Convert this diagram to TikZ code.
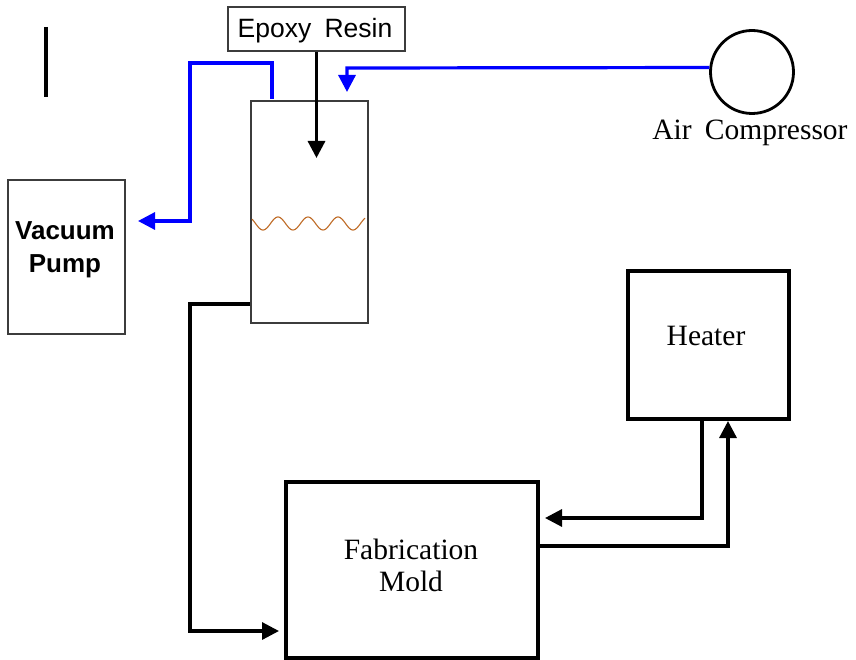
\documentclass[tikz,border=0pt]{standalone}
\usepackage{fontspec}
\setmainfont{Liberation Serif}
\newfontfamily\sansf{Liberation Sans}
\usetikzlibrary{arrows.meta}
\definecolor{pipeblue}{RGB}{0,0,255}
\definecolor{resinbrown}{RGB}{190,105,35}
\definecolor{thingray}{RGB}{60,60,60}
\begin{document}
\begin{tikzpicture}[x=1pt,y=-1pt,
  thinbox/.style={draw=thingray,line width=1.3pt,inner sep=0pt},
  thickbox/.style={draw=black,line width=3.2pt,inner sep=0pt},
  serifbig/.style={font=\fontsize{29.5}{32}\selectfont,align=center},
  blk/.style={draw=black,line width=3.2pt,-{Triangle[length=17pt,width=17pt]}},
  blu/.style={draw=pipeblue,line width=3.2pt,-{Triangle[length=17pt,width=17pt]}}]
\useasboundingbox (0,0) rectangle (856,660);

% stand-alone mark
\draw[line width=3.2pt] (46,27) -- (46,97);

% nodes
\node[thinbox,minimum width=177pt,minimum height=44pt] (epoxy) at (316.5,29) {};
\node[font=\sansf\fontsize{26.5}{29}\selectfont] (epoxytext) at (315,31) {Epoxy\hspace{0.5em}Resin};
\node[thinbox,minimum width=117pt,minimum height=222pt] (tank) at (309.5,212) {};
\node[thinbox,minimum width=117pt,minimum height=154pt] (vac) at (66.5,257) {};
\node[font=\sansf\bfseries\fontsize{26}{33}\selectfont,align=center] (vactext) at (65,250) {Vacuum\\Pump};
\node[draw,circle,line width=2.8pt,minimum size=83pt,inner sep=0pt] (comp) at (752,72) {};
\node[serifbig] (comptext) at (750,133) {Air\hspace{0.45em}Compressor};
\node[thickbox,minimum width=161pt,minimum height=148pt] (heater) at (708.5,345) {};
\node[serifbig] (heatertext) at (706,336) {Heater};
\node[thickbox,minimum width=252pt,minimum height=176pt] (mold) at (412,570) {};
\node[serifbig] (moldtext) at (411,565) {Fabrication\\Mold};

% resin level
\draw[resinbrown,line width=1.1pt] plot[domain=252:365,samples=120,smooth]
  (\x,{223.5+6.5*cos((\x-263)*12)});

% free ends
\coordinate (resinin) at (316.5,158);
\coordinate (vacin) at (138,221);
\coordinate (airin) at (347,92);
\coordinate (moldin) at (279,631);
\coordinate (moldin2) at (545,518);

% connectors
\draw[blk] (epoxy.south) -- (resinin);
\draw[blu] (272,99) -- (272,63) -- (190,63) -- (190,221) -- (vacin);
\draw[blu] (comp.174) -- (347,68) -- (airin);
\draw[blk] (tank.west |- 0,304) -- (190,304) -- (190,631) -- (moldin);
\draw[blk] (702,419) -- (702,518) -- (moldin2);
\draw[blk] (mold.east |- 0,546) -- (728,546) -- (728,421);
\end{tikzpicture}
\end{document}
